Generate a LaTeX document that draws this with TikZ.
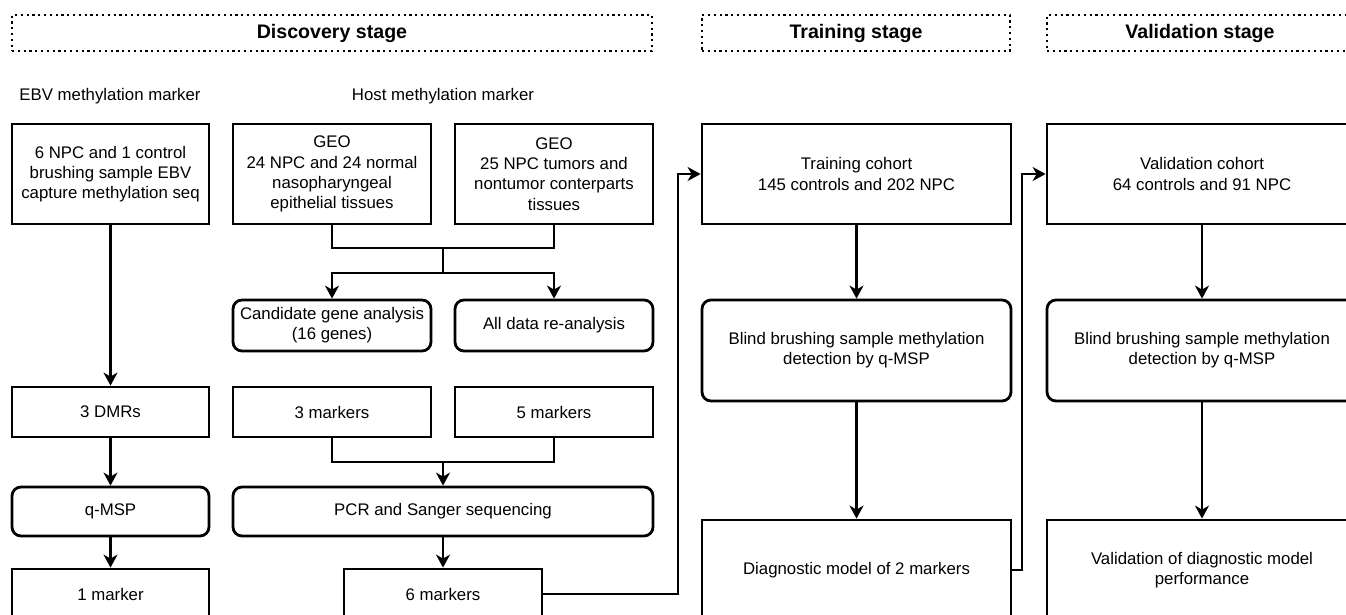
\documentclass[tikz,border=0pt]{standalone}
\usepackage{fontspec}
\setmainfont{Liberation Sans}
\usetikzlibrary{arrows.meta}
\begin{document}
\begin{tikzpicture}[x=1pt,y=-1pt,
  every node/.style={font=\fontsize{16.8}{20.2}\selectfont, text=black},
  stagebox/.style={draw, line width=2.2pt, dash pattern=on 2.2pt off 3.6pt, minimum height=36pt, inner sep=0pt, font=\fontsize{19.6}{23}\selectfont\bfseries},
  box/.style={draw, line width=2.8pt, align=center, inner sep=0pt, minimum width=197pt, minimum height=100pt},
  rbox/.style={box, rounded corners=9pt},
  conn/.style={line width=2.8pt},
  arr/.style={conn, -{Stealth[length=13pt,width=14pt,inset=4pt]}}
]
\clip (0,0) rectangle (1346,614);
\fill[white] (0,0) rectangle (1346,614);

% stage headers
\node[stagebox, minimum width=640pt] (disc) at (332,33) {Discovery stage};
\node[stagebox, minimum width=308pt] (trs) at (856,33) {Training stage};
\node[stagebox, minimum width=306pt] (vls) at (1200,33) {Validation stage};

\node (ebvlab) at (110,96) {EBV methylation marker};
\node (hostlab) at (443,96) {Host methylation marker};

% discovery column 1
\node[box] (ebv) at (110.5,174) {6 NPC and 1 control\\brushing sample EBV\\capture methylation seq};
\node[box, minimum height=50pt] (dmr) at (110.5,412) {3 DMRs};
\node[rbox, minimum height=49pt] (qmsp) at (110.5,511.5) {q-MSP};
\node[box, minimum height=50pt] (m1) at (110.5,594) {1 marker};

% discovery host
\node[box, minimum width=198pt] (geo1) at (332,174) {GEO\\24 NPC and 24 normal\\nasopharyngeal\\epithelial tissues};
\node[box, minimum width=198pt] (geo2) at (554,174) {GEO\\25 NPC tumors and\\nontumor conterparts\\tissues};
\node[rbox, minimum width=198pt, minimum height=51pt] (cand) at (332,325.5) {Candidate gene analysis\\(16 genes)};
\node[rbox, minimum width=198pt, minimum height=51pt] (alld) at (554,325.5) {All data re-analysis};
\node[box, minimum width=198pt, minimum height=50pt] (m3) at (332,412) {3 markers};
\node[box, minimum width=198pt, minimum height=50pt] (m5) at (554,412) {5 markers};
\node[rbox, minimum width=420pt, minimum height=49pt] (pcr) at (443,511.5) {PCR and Sanger sequencing};
\node[box, minimum width=198pt, minimum height=50pt] (m6) at (443,594) {6 markers};

% training
\node[box, minimum width=309pt] (trc) at (856.5,174) {Training cohort\\145 controls and 202 NPC};
\node[rbox, minimum width=309pt, minimum height=101pt] (bl1) at (856.5,350.5) {Blind brushing sample methylation\\detection by q-MSP};
\node[box, minimum width=309pt] (diag) at (856.5,570) {Diagnostic model of 2 markers};

% validation
\node[box, minimum width=310pt] (vlc) at (1202,174) {Validation cohort\\64 controls and 91 NPC};
\node[rbox, minimum width=310pt, minimum height=101pt] (bl2) at (1202,350.5) {Blind brushing sample methylation\\detection by q-MSP};
\node[box, minimum width=310pt] (vperf) at (1202,570) {Validation of diagnostic model\\performance};

% connectors
\draw[arr] (ebv.south) -- (dmr.north);
\draw[arr] (dmr.south) -- (qmsp.north);
\draw[arr] (qmsp.south) -- (m1.north);

\coordinate (j1) at (443,248);
\coordinate (j2) at (443,273);
\draw[conn] (geo1.south) |- (j1) -| (geo2.south);
\draw[conn] (j1) -- (j2);
\draw[arr] (j2) -| (cand.north);
\draw[arr] (j2) -| (alld.north);

\coordinate (j3) at (443,462);
\draw[conn] (m3.south) |- (j3) -| (m5.south);
\draw[arr] (j3) -- (pcr.north);
\draw[arr] (pcr.south) -- (m6.north);

\coordinate (k1) at (678,594);
\draw[arr] (m6.east) -- (k1) |- (trc.west);
\draw[arr] (trc.south) -- (bl1.north);
\draw[arr] (bl1.south) -- (diag.north);

\coordinate (k2) at (1022,570);
\draw[arr] (diag.east) -- (k2) |- (vlc.west);
\draw[arr] (vlc.south) -- (bl2.north);
\draw[arr] (bl2.south) -- (vperf.north);
\end{tikzpicture}
\end{document}
